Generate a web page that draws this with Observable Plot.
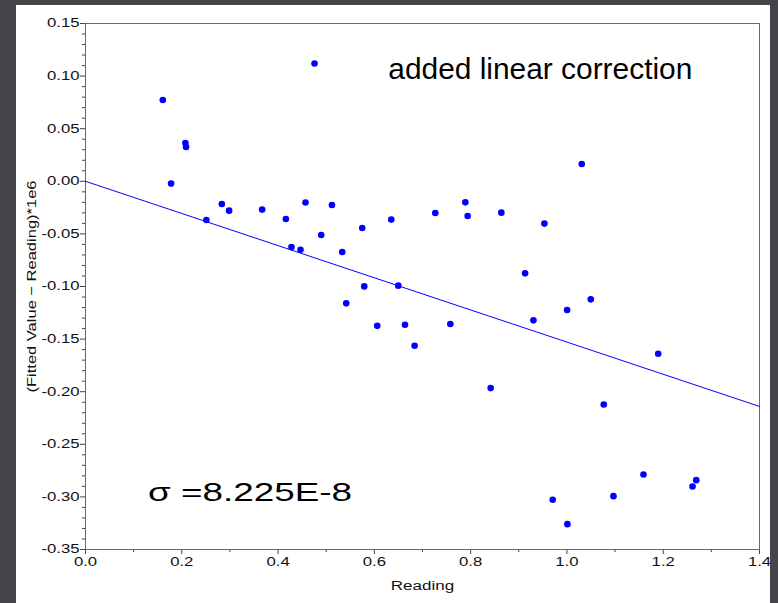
<!DOCTYPE html>
<html>
<head>
<meta charset="utf-8">
<script src="https://cdn.jsdelivr.net/npm/d3@7"></script>
<script src="https://cdn.jsdelivr.net/npm/@observablehq/plot@0.6"></script>
<style>
  html, body { margin: 0; padding: 0; background: #454449; width: 778px; height: 603px; overflow: hidden; }
  #panel { position: absolute; left: 16px; top: 5px; width: 754px; height: 598px; background: #fff; overflow: hidden; }
  #chart { position: absolute; left: -16px; top: -5px; width: 778px; height: 603px; }
  text { font-family: "Liberation Sans", Arial, sans-serif; }
</style>
</head>
<body>
<div id="panel"><div id="chart"></div></div>
<script>
// Data
const reading = [0.1605,0.1778,0.2075,0.2089,0.2511,0.2832,0.2983,0.3669,0.4162,0.4279,0.4466,0.4570,0.4757,0.4896,0.5119,0.5333,0.5416,0.5748,0.5790,0.6060,0.6351,0.6497,0.6636,0.6836,0.7266,0.7578,0.7890,0.7938,0.8416,0.8638,0.9131,0.9304,0.9532,0.9705,1.0010,1.0004,1.0308,1.0495,1.0765,1.0967,1.1590,1.1896,1.2609,1.2686];
const residual = [0.0773,-0.0022,0.0364,0.0326,-0.0368,-0.0216,-0.0279,-0.0269,-0.0358,-0.0625,-0.0650,-0.0202,0.1120,-0.0511,-0.0225,-0.0672,-0.1160,-0.0444,-0.0999,-0.1374,-0.0364,-0.0992,-0.1363,-0.1563,-0.0301,-0.1357,-0.0200,-0.0330,-0.1966,-0.0298,-0.0875,-0.1322,-0.0402,-0.3027,-0.3259,-0.1224,0.0165,-0.1122,-0.2121,-0.2993,-0.2787,-0.1639,-0.2901,-0.2841];
const fitX = [0, 1.4];
const fitY = [0.0, -0.214];
const xTicks = [0, 0.2, 0.4, 0.6, 0.8, 1.0, 1.2, 1.4];
const xMinor = [0.1, 0.3, 0.5, 0.7, 0.9, 1.1, 1.3];
const yTicks = [0.15, 0.10, 0.05, 0.00, -0.05, -0.10, -0.15, -0.20, -0.25, -0.30, -0.35];
const yMinor = d3.range(-35, 16).filter(v => v % 5 !== 0).map(v => v / 100);
const titleText = "added linear correction";
const sigmaText = "σ =8.225E-8";
const xLabel = "Reading";
const yLabel = "(Fitted Value − Reading)*1e6";

const points = reading.map((r, i) => ({x: r, y: residual[i]}));
const fit = fitX.map((x, i) => ({x, y: fitY[i]}));

const chart = Plot.plot({
  width: 778,
  height: 603,
  marginLeft: 85,
  marginRight: 19,
  marginTop: 23,
  marginBottom: 54,
  style: {background: "transparent", fontFamily: "Liberation Sans, Arial, sans-serif", color: "#111", overflow: "visible"},
  x: {domain: [0, 1.4], axis: null},
  y: {domain: [-0.35, 0.15], axis: null},
  marks: [
    Plot.axisY(yMinor, {tickSize: 3, tickFormat: () => "", label: null, stroke: "#444"}),
    Plot.axisY(yTicks, {tickSize: 5, tickPadding: 1, tickFormat: d => d.toFixed(2), label: null, fontSize: 12.3, stroke: "#444", fill: "#111", className: "tl"}),
    Plot.axisX(xMinor, {tickSize: 3, tickFormat: () => "", label: null, stroke: "#444"}),
    Plot.axisX(xTicks, {tickSize: 5, tickPadding: 3, tickFormat: d => d.toFixed(1), label: null, fontSize: 12.3, stroke: "#444", fill: "#111", className: "tl"}),
    Plot.frame({stroke: "#666"}),
    Plot.line(fit, {x: "x", y: "y", stroke: "#0000ff", strokeWidth: 1}),
    Plot.dot(points, {x: "x", y: "y", r: 3.3, fill: "#0000ff", stroke: null}),
    Plot.text([titleText], {x: 0.629, y: 0.1062, textAnchor: "start", fontSize: 30, fill: "#000", className: "title-ann"}),
    Plot.text([sigmaText], {x: 0.130, y: -0.2967, textAnchor: "start", fontSize: 25, fill: "#000", className: "sigma-ann"}),
    Plot.text([xLabel], {frameAnchor: "bottom", dy: 40, fontSize: 12.5, fill: "#111", className: "xl"}),
    Plot.text([yLabel], {frameAnchor: "left", dx: -54, rotate: -90, textAnchor: "middle", lineAnchor: "middle", fontSize: 13.5, fill: "#111", className: "yl"})
  ]
});
document.getElementById("chart").appendChild(chart);
const svg = d3.select(chart);
svg.selectAll("text").filter(function() { return this.textContent === ""; }).remove();
svg.selectAll(".tl text, .xl text").each(function() {
  const w = this.getComputedTextLength();
  if (w > 0) d3.select(this).attr("textLength", w * 1.36).attr("lengthAdjust", "spacingAndGlyphs");
});
svg.selectAll(".yl text").attr("textLength", 212).attr("lengthAdjust", "spacingAndGlyphs");
svg.selectAll(".sigma-ann text").attr("textLength", 204).attr("lengthAdjust", "spacingAndGlyphs");
svg.selectAll(".title-ann text").attr("textLength", 304).attr("lengthAdjust", "spacingAndGlyphs");
</script>
</body>
</html>
